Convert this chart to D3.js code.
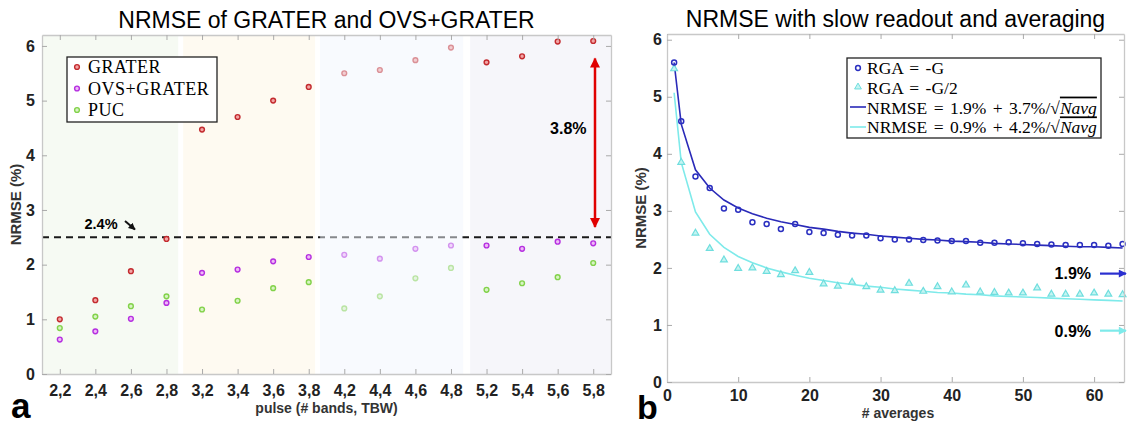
<!DOCTYPE html>
<html>
<head>
<meta charset="utf-8">
<script src="https://cdn.jsdelivr.net/npm/d3@7"></script>
<style>
  body { margin: 0; background: #fff; }
  svg { display: block; }
</style>
</head>
<body>
<div id="graf"></div>
<script>
// ---- panel a data
const pulses = ['2,2', '2,4', '2,6', '2,8', '3,2', '3,4', '3,6', '3,8',
                '4,2', '4,4', '4,6', '4,8', '5,2', '5,4', '5,6', '5,8']
const grater = [1.00, 1.35, 1.88, 2.47, 4.47, 4.70, 5.00, 5.25,
                5.50, 5.56, 5.74, 5.97, 5.70, 5.81, 6.08, 6.09]
const ovsGrater = [0.63, 0.78, 1.01, 1.30, 1.85, 1.91, 2.06, 2.14,
                   2.18, 2.11, 2.29, 2.35, 2.35, 2.29, 2.42, 2.39]
const puc = [0.84, 1.05, 1.24, 1.42, 1.18, 1.34, 1.57, 1.68,
             1.20, 1.42, 1.75, 1.94, 1.54, 1.66, 1.77, 2.03]
const threshold = 2.5
const yTicksA = [0, 1, 2, 3, 4, 5, 6]

// ---- panel b data
const nAvg = [1, 2, 4, 6, 8, 10, 12, 14, 16, 18, 20, 22, 24, 26, 28, 30, 32,
              34, 36, 38, 40, 42, 44, 46, 48, 50, 52, 54, 56, 58, 60, 62, 64]
const rgaG = [5.60, 4.57, 3.60, 3.40, 3.04, 3.02, 2.80, 2.77, 2.68, 2.77, 2.63,
              2.61, 2.58, 2.57, 2.57, 2.52, 2.50, 2.50, 2.49, 2.48, 2.47, 2.47,
              2.44, 2.44, 2.45, 2.43, 2.42, 2.41, 2.40, 2.40, 2.40, 2.39, 2.42]
const rgaG2 = [5.49, 3.85, 2.61, 2.34, 2.14, 1.99, 2.00, 1.94, 1.88, 1.95, 1.92,
               1.72, 1.68, 1.75, 1.67, 1.61, 1.60, 1.73, 1.59, 1.67, 1.58, 1.70,
               1.58, 1.57, 1.56, 1.56, 1.65, 1.54, 1.54, 1.54, 1.56, 1.54, 1.53]
const fitG = [5.60, 4.52, 3.72, 3.40, 3.19, 3.05, 2.95, 2.87, 2.81, 2.76, 2.71,
              2.68, 2.64, 2.61, 2.59, 2.56, 2.54, 2.52, 2.50, 2.49, 2.47, 2.46,
              2.45, 2.43, 2.42, 2.41, 2.40, 2.39, 2.38, 2.37, 2.37, 2.36, 2.35]
const fitG2 = [5.07, 3.85, 2.98, 2.59, 2.36, 2.20, 2.09, 2.00, 1.93, 1.87, 1.82,
               1.78, 1.74, 1.71, 1.68, 1.66, 1.63, 1.61, 1.59, 1.57, 1.56, 1.54,
               1.53, 1.51, 1.50, 1.49, 1.48, 1.47, 1.46, 1.45, 1.44, 1.43, 1.42]
const xTicksB = [0, 10, 20, 30, 40, 50, 60]

const svg = d3.select('#graf')
  .append('svg')
  .attr('width', 1127)
  .attr('height', 426)

const fSans = 'Liberation Sans, Arial, sans-serif'
const fSerif = 'Liberation Serif, Times New Roman, serif'
const gris = '#c8c8c8'

// ============ panel a ============
const boxA = { left: 42, right: 611, top: 35, bottom: 374 }
const gA = svg.append('g')
const xA = d3.scaleLinear().domain([0.5, 16.5]).range([boxA.left, boxA.right])
const yA = d3.scaleLinear().domain([0, 6.2]).range([boxA.bottom, boxA.top])

// fondos por grupo de bandas
const bandas = [
  { desde: 0.5, hasta: 4.33, color: '#f6faf3' },
  { desde: 4.47, hasta: 8.18, color: '#fefaf1' },
  { desde: 12.54, hasta: 16.5, color: '#f6f6fa' },
]
gA.selectAll('rect.banda').data(bandas).enter().append('rect')
  .attr('class', 'banda')
  .attr('x', d => xA(d.desde))
  .attr('width', d => xA(d.hasta) - xA(d.desde))
  .attr('y', boxA.top)
  .attr('height', boxA.bottom - boxA.top)
  .attr('fill', d => d.color)

// linea de umbral
gA.append('line')
  .attr('x1', boxA.left).attr('x2', boxA.right)
  .attr('y1', yA(threshold)).attr('y2', yA(threshold))
  .attr('stroke', '#1a1a1a')
  .attr('stroke-width', 2)
  .attr('stroke-dasharray', '7,5')

const seriesA = [
  { nombre: 'GRATER', vals: grater, stroke: '#c32a2e', fill: '#f2a5a5' },
  { nombre: 'OVS+GRATER', vals: ovsGrater, stroke: '#b52fe0', fill: '#efb9f7' },
  { nombre: 'PUC', vals: puc, stroke: '#82d24a', fill: '#d8f3c4' },
]

seriesA.forEach(s => {
  gA.selectAll(null).data(s.vals).enter().append('circle')
    .attr('cx', (d, i) => xA(i + 1))
    .attr('cy', d => yA(d))
    .attr('r', 2.4)
    .attr('fill', s.fill)
    .attr('stroke', s.stroke)
    .attr('stroke-width', 1.4)
})

// banda azul encima (deja los puntos desvaidos)
gA.append('rect')
  .attr('x', xA(8.32))
  .attr('width', xA(12.34) - xA(8.32))
  .attr('y', boxA.top)
  .attr('height', boxA.bottom - boxA.top)
  .attr('fill', '#f1f6fd')
  .attr('opacity', 0.5)

// ejes
gA.append('g').attr('transform', `translate(0, ${boxA.bottom})`)
  .call(d3.axisBottom(xA).tickValues(d3.range(1, 17)).tickFormat(d => pulses[d - 1])
    .tickSizeInner(-5).tickSizeOuter(0).tickPadding(11))
gA.append('g').attr('transform', `translate(0, ${boxA.top})`)
  .call(d3.axisTop(xA).tickValues(d3.range(1, 17)).tickFormat('')
    .tickSizeInner(-5).tickSizeOuter(0))
gA.append('g').attr('transform', `translate(${boxA.left}, 0)`)
  .call(d3.axisLeft(yA).tickValues(yTicksA).tickFormat(d3.format('d'))
    .tickSizeInner(-5).tickSizeOuter(0).tickPadding(7))
gA.append('g').attr('transform', `translate(${boxA.right}, 0)`)
  .call(d3.axisRight(yA).tickValues(yTicksA).tickFormat('').tickSizeInner(-5).tickSizeOuter(0))

// flechas
const defs = svg.append('defs')
function punta(id, color, w, h) {
  defs.append('marker')
    .attr('id', id)
    .attr('viewBox', '0 0 10 10')
    .attr('refX', 9).attr('refY', 5)
    .attr('markerWidth', w).attr('markerHeight', h)
    .attr('markerUnits', 'userSpaceOnUse')
    .attr('orient', 'auto-start-reverse')
    .append('path')
    .attr('d', 'M0,0 L10,5 L0,10 z')
    .attr('fill', color)
}
punta('pRoja', '#e00000', 11, 10)
punta('pNegra', '#111', 7, 7)
punta('pAzul', '#2a2fd0', 9, 8)
punta('pCian', '#7eeaea', 9, 8)

gA.append('line')
  .attr('x1', xA(16.05)).attr('x2', xA(16.05))
  .attr('y1', yA(2.69)).attr('y2', yA(5.77))
  .attr('stroke', '#e00000').attr('stroke-width', 2.5)
  .attr('marker-start', 'url(#pRoja)')
  .attr('marker-end', 'url(#pRoja)')

gA.append('text')
  .attr('x', xA(15.3)).attr('y', 134)
  .attr('text-anchor', 'middle')
  .attr('font-family', fSans).attr('font-weight', 'bold').attr('font-size', 16)
  .text('3.8%')

gA.append('text')
  .attr('x', 101).attr('y', 229)
  .attr('text-anchor', 'middle')
  .attr('font-family', fSans).attr('font-weight', 'bold').attr('font-size', 14.5)
  .text('2.4%')
gA.append('line')
  .attr('x1', 125).attr('y1', 221).attr('x2', 135).attr('y2', 229.5)
  .attr('stroke', '#111').attr('stroke-width', 2)
  .attr('marker-end', 'url(#pNegra)')

// leyenda a
const legA = gA.append('g')
legA.append('rect')
  .attr('x', 67).attr('y', 57).attr('width', 150).attr('height', 65)
  .attr('fill', '#fff').attr('stroke', '#222').attr('stroke-width', 1.3)
seriesA.forEach((s, i) => {
  legA.append('circle')
    .attr('cx', 77).attr('cy', 67 + i * 21.5).attr('r', 2.4)
    .attr('fill', s.fill).attr('stroke', s.stroke).attr('stroke-width', 1.4)
  legA.append('text')
    .attr('x', 88).attr('y', 73 + i * 21.5)
    .attr('font-family', fSerif).attr('font-size', 18)
    .attr('letter-spacing', 0.5)
    .text(s.nombre)
})

// titulo y etiquetas
svg.append('text')
  .attr('x', (boxA.left + boxA.right) / 2).attr('y', 28)
  .attr('text-anchor', 'middle')
  .attr('font-family', fSans).attr('font-size', 23)
  .text('NRMSE of GRATER and OVS+GRATER')
svg.append('text')
  .attr('x', (boxA.left + boxA.right) / 2).attr('y', 413)
  .attr('text-anchor', 'middle')
  .attr('font-family', fSans).attr('font-weight', 'bold').attr('font-size', 14)
  .attr('fill', '#333')
  .text('pulse (# bands, TBW)')
svg.append('text')
  .attr('transform', `translate(21, ${(boxA.top + boxA.bottom) / 2}) rotate(-90)`)
  .attr('text-anchor', 'middle')
  .attr('font-family', fSans).attr('font-weight', 'bold').attr('font-size', 15)
  .attr('fill', '#333')
  .text('NRMSE (%)')
svg.append('text')
  .attr('x', 11).attr('y', 418)
  .attr('font-family', fSans).attr('font-weight', 'bold').attr('font-size', 35)
  .text('a')

// ============ panel b ============
const boxB = { left: 667, right: 1124, top: 34, bottom: 382 }
const gB = svg.append('g')
const xB = d3.scaleLinear().domain([0, 64.2]).range([boxB.left, boxB.right])
const yB = d3.scaleLinear().domain([0, 6.1]).range([boxB.bottom, boxB.top])

const linea = vals => d3.line()
  .x((d, i) => xB(nAvg[i]))
  .y(d => yB(d))(vals)

gB.append('path').attr('d', linea(fitG2))
  .attr('fill', 'none').attr('stroke', '#7eeaea').attr('stroke-width', 1.6)
gB.append('path').attr('d', linea(fitG))
  .attr('fill', 'none').attr('stroke', '#2a2ab8').attr('stroke-width', 1.6)

const tri = d3.symbol().type(d3.symbolTriangle).size(20)
gB.selectAll('path.tri').data(rgaG2).enter().append('path')
  .attr('class', 'tri')
  .attr('d', tri)
  .attr('transform', (d, i) => `translate(${xB(nAvg[i])}, ${yB(d)})`)
  .attr('fill', '#c4f4f2')
  .attr('stroke', '#6fdede')
  .attr('stroke-width', 1.2)

gB.selectAll('circle.rga').data(rgaG).enter().append('circle')
  .attr('class', 'rga')
  .attr('cx', (d, i) => xB(nAvg[i]))
  .attr('cy', d => yB(d))
  .attr('r', 2.5)
  .attr('fill', 'none')
  .attr('stroke', '#2a2fc0')
  .attr('stroke-width', 1.5)

gB.append('g').attr('transform', `translate(0, ${boxB.bottom})`)
  .call(d3.axisBottom(xB).tickValues(xTicksB).tickSizeInner(-5).tickSizeOuter(0).tickPadding(8))
gB.append('g').attr('transform', `translate(0, ${boxB.top})`)
  .call(d3.axisTop(xB).tickValues(xTicksB).tickFormat('').tickSizeInner(-5).tickSizeOuter(0))
gB.append('g').attr('transform', `translate(${boxB.left}, 0)`)
  .call(d3.axisLeft(yB).tickValues(yTicksA).tickFormat(d3.format('d'))
    .tickSizeInner(-5).tickSizeOuter(0).tickPadding(5))
gB.append('g').attr('transform', `translate(${boxB.right}, 0)`)
  .call(d3.axisRight(yB).tickValues(yTicksA).tickFormat('').tickSizeInner(-5).tickSizeOuter(0))

// estilo comun de ejes
svg.selectAll('.domain').attr('stroke', gris).attr('stroke-width', 1.3)
svg.selectAll('.tick line').attr('stroke', '#aaa')
svg.selectAll('.tick text')
  .attr('font-family', fSans).attr('font-weight', 'bold').attr('font-size', 16)
  .attr('fill', '#222')

// asintotas
const asint = [
  { txt: '1.9%', y: 1.9, color: '#2a2fd0', mk: 'pAzul', base: 279 },
  { txt: '0.9%', y: 0.9, color: '#7eeaea', mk: 'pCian', base: 337 },
]
asint.forEach(a => {
  svg.append('line')
    .attr('x1', 1100).attr('x2', 1126)
    .attr('y1', yB(a.y)).attr('y2', yB(a.y))
    .attr('stroke', a.color).attr('stroke-width', 2.2)
    .attr('marker-end', `url(#${a.mk})`)
  svg.append('text')
    .attr('x', 1091).attr('y', a.base)
    .attr('text-anchor', 'end')
    .attr('font-family', fSans).attr('font-weight', 'bold').attr('font-size', 16)
    .text(a.txt)
})

// leyenda b
const legB = gB.append('g')
legB.append('rect')
  .attr('x', 847).attr('y', 58).attr('width', 254).attr('height', 80)
  .attr('fill', '#fff').attr('stroke', '#222').attr('stroke-width', 1.3)
legB.append('circle')
  .attr('cx', 858).attr('cy', 68).attr('r', 2.4)
  .attr('fill', 'none').attr('stroke', '#2a2fc0').attr('stroke-width', 1.5)
legB.append('path')
  .attr('d', d3.symbol().type(d3.symbolTriangle).size(20))
  .attr('transform', 'translate(858, 87)')
  .attr('fill', '#c4f4f2').attr('stroke', '#6fdede')
legB.append('line').attr('x1', 850).attr('x2', 866).attr('y1', 107).attr('y2', 107)
  .attr('stroke', '#2a2ab8').attr('stroke-width', 1.6)
legB.append('line').attr('x1', 850).attr('x2', 866).attr('y1', 127).attr('y2', 127)
  .attr('stroke', '#7eeaea').attr('stroke-width', 1.6)

const textosB = [
  ['RGA = -G', null],
  ['RGA = -G/2', null],
  ['NRMSE = 1.9% + 3.7%/', 'Navg'],
  ['NRMSE = 0.9% + 4.2%/', 'Navg'],
]
textosB.forEach((t, i) => {
  const txt = legB.append('text')
    .attr('x', 867).attr('y', 74 + i * 19.8)
    .attr('font-family', fSerif).attr('font-size', 17.5)
    .attr('word-spacing', 2)
  txt.append('tspan').text(t[0])
  if (t[1]) {
    txt.append('tspan').text('\u221A')
    txt.append('tspan')
      .attr('font-style', 'italic')
      .style('text-decoration', 'overline')
      .text(t[1])
  }
})

svg.append('text')
  .attr('x', (boxB.left + boxB.right) / 2).attr('y', 27)
  .attr('text-anchor', 'middle')
  .attr('font-family', fSans).attr('font-size', 23)
  .text('NRMSE with slow readout and averaging')
svg.append('text')
  .attr('x', 898).attr('y', 418)
  .attr('text-anchor', 'middle')
  .attr('font-family', fSans).attr('font-weight', 'bold').attr('font-size', 14)
  .attr('fill', '#333')
  .text('# averages')
svg.append('text')
  .attr('transform', `translate(646, ${(boxB.top + boxB.bottom) / 2}) rotate(-90)`)
  .attr('text-anchor', 'middle')
  .attr('font-family', fSans).attr('font-weight', 'bold').attr('font-size', 15)
  .attr('fill', '#333')
  .text('NRMSE (%)')
svg.append('text')
  .attr('x', 637).attr('y', 419)
  .attr('font-family', fSans).attr('font-weight', 'bold').attr('font-size', 34)
  .text('b')
</script>
</body>
</html>
